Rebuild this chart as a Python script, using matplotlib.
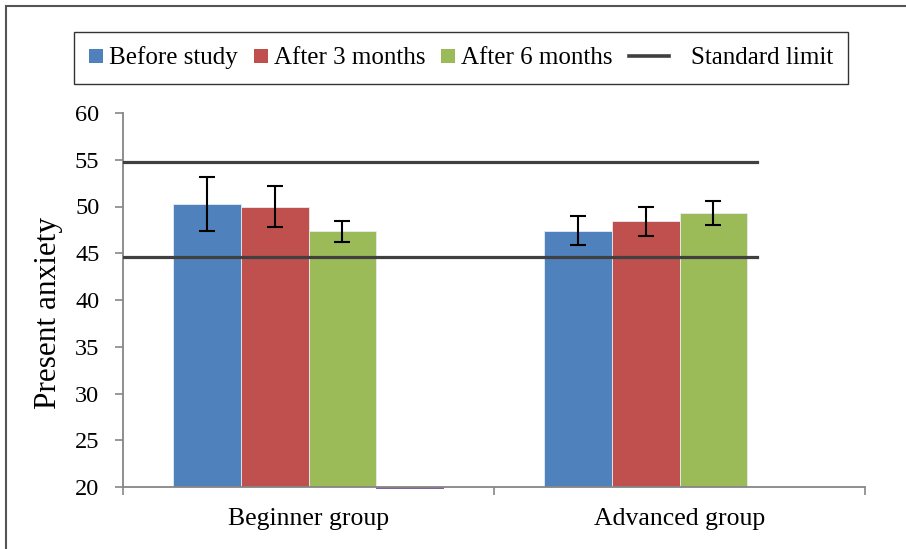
import numpy as np
import matplotlib
matplotlib.use('Agg')
import matplotlib.pyplot as plt
import matplotlib.patches as mpatches
from matplotlib.lines import Line2D

plt.rcParams['font.family'] = ['Liberation Serif', 'DejaVu Serif']

# Data
groups = ['Beginner group', 'Advanced group']
series_names = ['Before study', 'After 3 months', 'After 6 months']
before = [50.3, 47.4]
after3 = [50.0, 48.4]
after6 = [47.35, 49.3]
before_err = [2.9, 1.55]
after3_err = [2.15, 1.55]
after6_err = [1.1, 1.3]
extra = [20.0, np.nan]          # the fourth (empty) purple series
limit_upper = 54.8
limit_lower = 44.6

colors = ['#4F81BD', '#C0504D', '#9BBB59']
purple = '#8064A2'
line_color = '#404040'

fig = plt.figure(figsize=(9.06, 5.49), dpi=100)
ax = fig.add_axes([123 / 906, 62 / 549, 742 / 906, 374 / 549])

x = np.arange(len(groups))
w = 0.182
offsets = [-1.5 * w, -0.5 * w, 0.5 * w]
vals = [before, after3, after6]
errs = [before_err, after3_err, after6_err]

for off, v, e, c in zip(offsets, vals, errs, colors):
    ax.bar(x + off, np.array(v) - 20, bottom=20, width=w, color=c,
           edgecolor='#e6ecf5', linewidth=0.6, zorder=2)
    ax.errorbar(x + off, v, yerr=e, fmt='none', ecolor='black',
                elinewidth=1.5, capsize=6, capthick=1.5, zorder=4)

# purple empty series sits on the axis line
ax.bar(x + 1.5 * w, -0.18, bottom=np.array(extra), width=w, color=purple,
       linewidth=0, clip_on=False, zorder=1)

# standard limit lines
ax.plot([-0.5, 1.208], [limit_upper, limit_upper], color=line_color, lw=2.3, zorder=3)
ax.plot([-0.5, 1.208], [limit_lower, limit_lower], color=line_color, lw=2.3, zorder=3)

ax.set_xlim(-0.5, 1.5)
ax.set_ylim(20, 60)
ax.set_yticks(np.arange(20, 61, 5))
ax.set_xticks(x)
ax.set_xticklabels(groups)
ax.set_xticks([-0.5, 0.5, 1.5], minor=True)
ax.tick_params(axis='x', which='major', length=0, labelsize=18.5, pad=15)
ax.tick_params(axis='x', which='minor', length=6, color='#868686', width=1.2)
ax.tick_params(axis='y', length=6, color='#868686', width=1.2, labelsize=17.5, pad=11)

for s in ['top', 'right']:
    ax.spines[s].set_visible(False)
for s in ['left', 'bottom']:
    ax.spines[s].set_color('#868686')
    ax.spines[s].set_linewidth(1.3)

fig.text(49 / 906, 1 - 313 / 549, 'Present anxiety', rotation=90,
         ha='center', va='center', fontsize=22.5)

PX = 0.72  # points per pixel at 100 dpi


# legend handlers: small squares right before the text, longer line with gap
class SquareHandler:
    def legend_artist(self, legend, orig_handle, fontsize, handlebox):
        s = 14 * PX
        handlebox.width = s
        h = handlebox.height
        rect = mpatches.Rectangle((0, (h - s) / 2 - handlebox.ydescent), s, s,
                                  facecolor=orig_handle.get_facecolor(),
                                  edgecolor='none', transform=handlebox.get_transform())
        handlebox.add_artist(rect)
        return rect


class LineHandler:
    def legend_artist(self, legend, orig_handle, fontsize, handlebox):
        handlebox.width = 56 * PX
        yc = handlebox.height / 2 - handlebox.ydescent
        ln = Line2D([0, 40 * PX], [yc, yc], color=orig_handle.get_color(),
                    lw=orig_handle.get_linewidth(), transform=handlebox.get_transform())
        handlebox.add_artist(ln)
        return ln


handles = [mpatches.Patch(facecolor=c) for c in colors]
line_handle = Line2D([], [], color=line_color, lw=2.6)
handles.append(line_handle)
labels = series_names + ['Standard limit']
handler_map = {h: SquareHandler() for h in handles[:3]}
handler_map[line_handle] = LineHandler()

leg = fig.legend(handles, labels, handler_map=handler_map, ncol=4,
                 loc='center', bbox_to_anchor=(461 / 906, 1 - 58 / 549),
                 fontsize=18, frameon=True, fancybox=False, edgecolor='black',
                 handletextpad=0.24, columnspacing=0.64,
                 borderpad=0.6, borderaxespad=0)
leg.get_frame().set_linewidth(1.0)

# outer frame (top and left edges visible)
fig.patches.append(mpatches.Rectangle((6 / 906, -0.1), 1.2, 1 - 6 / 549 + 0.1,
                                      transform=fig.transFigure, fill=False,
                                      edgecolor='#555555', lw=1.5))

fig.savefig('out.png', dpi=100)
